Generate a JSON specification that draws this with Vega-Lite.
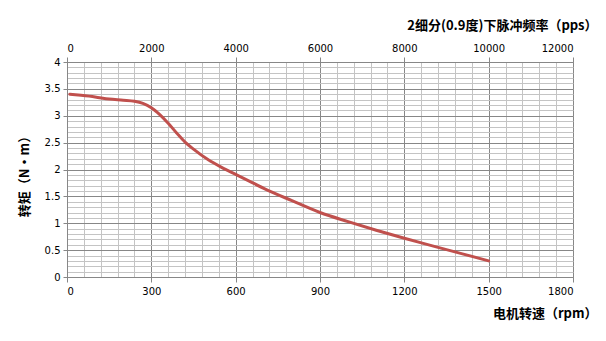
{
  "$schema": "https://vega.github.io/schema/vega-lite/v6.json",
  "width": 506,
  "height": 215,
  "autosize": {"type": "none"},
  "padding": {"left": 67, "top": 62, "right": 33, "bottom": 64},
  "background": "white",
  "config": {
    "view": {"stroke": null},
    "axis": {"labelFont": "DejaVu Sans", "labelFontSize": 10, "labelColor": "#000000", "titleFont": "Noto Sans CJK SC", "titleFontSize": 13, "titleFontWeight": "bold", "titleColor": "#000000"}
  },
  "datasets": {
    "curve": [
      {"rpm": 10, "torque": 3.40},
      {"rpm": 50, "torque": 3.38},
      {"rpm": 100, "torque": 3.35},
      {"rpm": 150, "torque": 3.31},
      {"rpm": 200, "torque": 3.29},
      {"rpm": 240, "torque": 3.27},
      {"rpm": 270, "torque": 3.23},
      {"rpm": 300, "torque": 3.15},
      {"rpm": 330, "torque": 3.02},
      {"rpm": 360, "torque": 2.86},
      {"rpm": 390, "torque": 2.68},
      {"rpm": 420, "torque": 2.51},
      {"rpm": 450, "torque": 2.38},
      {"rpm": 500, "torque": 2.19},
      {"rpm": 550, "torque": 2.04},
      {"rpm": 600, "torque": 1.91},
      {"rpm": 650, "torque": 1.78},
      {"rpm": 700, "torque": 1.65},
      {"rpm": 800, "torque": 1.42},
      {"rpm": 900, "torque": 1.20},
      {"rpm": 1000, "torque": 1.03},
      {"rpm": 1100, "torque": 0.87},
      {"rpm": 1200, "torque": 0.72},
      {"rpm": 1300, "torque": 0.58},
      {"rpm": 1400, "torque": 0.44},
      {"rpm": 1500, "torque": 0.30}
    ],
    "pps": [{"pps": 0}, {"pps": 12000}]
  },
  "layer": [
    {
      "data": {"name": "curve"},
      "mark": {"type": "line", "opacity": 0},
      "encoding": {
        "x": {"field": "rpm", "type": "quantitative", "scale": {"domain": [0, 1800], "nice": false, "zero": false},
          "axis": {"orient": "bottom", "values": [0,60,120,180,240,300,360,420,480,540,600,660,720,780,840,900,960,1020,1080,1140,1200,1260,1320,1380,1440,1500,1560,1620,1680,1740,1800],
            "labels": false, "ticks": false, "domain": false, "title": null, "grid": true, "gridColor": "#c4c4c4", "gridWidth": 1}},
        "y": {"field": "torque", "type": "quantitative", "scale": {"domain": [0, 4], "nice": false},
          "axis": {"orient": "left", "values": [0,0.1,0.2,0.3,0.4,0.5,0.6,0.7,0.8,0.9,1,1.1,1.2,1.3,1.4,1.5,1.6,1.7,1.8,1.9,2,2.1,2.2,2.3,2.4,2.5,2.6,2.7,2.8,2.9,3,3.1,3.2,3.3,3.4,3.5,3.6,3.7,3.8,3.9,4],
            "labels": false, "ticks": false, "domain": false, "title": null, "grid": true, "gridColor": "#c4c4c4", "gridWidth": 1}}
      }
    },
    {
      "data": {"name": "curve"},
      "mark": {"type": "line", "color": "#C0504D", "strokeWidth": 3, "interpolate": "monotone", "strokeCap": "round"},
      "encoding": {
        "x": {"field": "rpm", "type": "quantitative", "scale": {"domain": [0, 1800], "nice": false, "zero": false},
          "axis": {"orient": "bottom", "values": [0,300,600,900,1200,1500,1800], "format": "d", "grid": true, "gridColor": "#878787", "gridWidth": 1,
            "domainColor": "#878787", "tickColor": "#878787", "tickSize": 5, "labelPadding": 4,
            "title": "电机转速（rpm）", "titleX": 530, "titleY": 36, "titleAlign": "right", "titleBaseline": "middle", "titleAngle": 0}},
        "y": {"field": "torque", "type": "quantitative", "scale": {"domain": [0, 4], "nice": false},
          "axis": {"orient": "left", "values": [0,0.5,1,1.5,2,2.5,3,3.5,4], "format": "~g", "grid": true, "gridColor": "#878787", "gridWidth": 1,
            "domainColor": "#878787", "tickColor": "#878787", "tickSize": 4, "labelPadding": 3,
            "title": "转矩（N·m）", "titleX": -43, "titleY": 111, "titleAngle": 270, "titleAlign": "center", "titleBaseline": "middle"}}
      }
    },
    {
      "data": {"name": "pps"},
      "mark": {"type": "point", "opacity": 0},
      "encoding": {
        "x": {"field": "pps", "type": "quantitative", "scale": {"domain": [0, 12000], "nice": false, "zero": false},
          "axis": {"orient": "top", "values": [0,2000,4000,6000,8000,10000,12000], "format": "d", "grid": false,
            "domainColor": "#878787", "tickColor": "#878787", "tickSize": 5, "labelPadding": 4,
            "title": "2细分(0.9度)下脉冲频率（pps）", "titleX": 530, "titleY": -37, "titleAlign": "right", "titleBaseline": "middle", "titleAngle": 0}}
      }
    }
  ],
  "resolve": {"scale": {"x": "independent"}, "axis": {"x": "independent", "y": "independent"}}
}
